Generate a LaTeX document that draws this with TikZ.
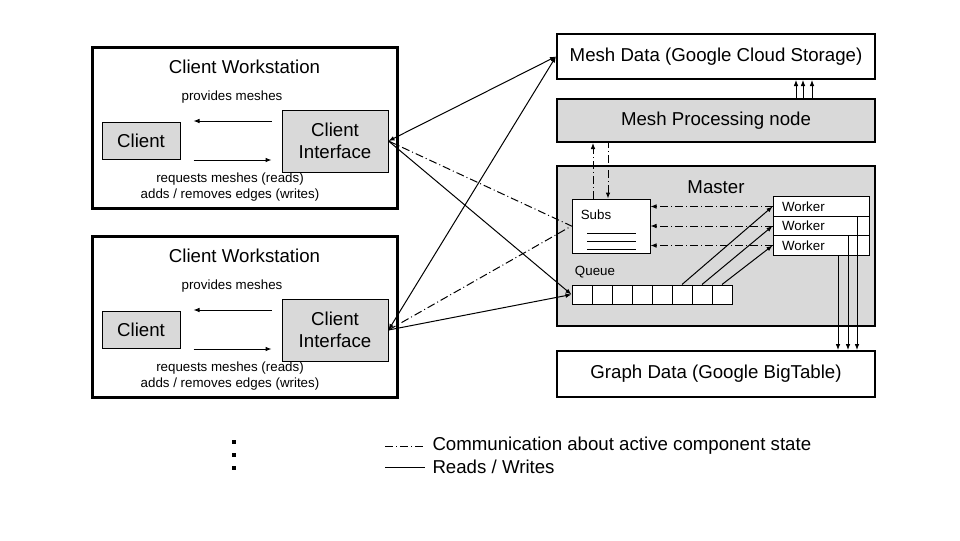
\documentclass[tikz,border=0pt]{standalone}
\usepackage{fontspec}
\setsansfont{Liberation Sans}
\usetikzlibrary{arrows.meta}
\usetikzlibrary{calc}
\definecolor{boxgray}{HTML}{D9D9D9}

\begin{document}
\begin{tikzpicture}[x=0.75pt, y=-0.75pt, font=\sffamily\fontsize{14}{16.5}\selectfont,
  >={Latex[length=4.5pt,width=3.5pt]}, line width=0.75pt,
  station/.style={draw, line width=2.25pt, minimum width=228.75pt, minimum height=120.75pt},
  part/.style={draw, fill=boxgray, align=center, inner sep=0pt},
  store/.style={draw, line width=1.5pt, minimum width=238.5pt, inner sep=0pt},
  small/.style={font=\sffamily\fontsize{10}{12}\selectfont},
  cell/.style={draw, fill=white, minimum width=15pt, minimum height=14.25pt, inner sep=0pt},
  worker/.style={draw, fill=white, small, text width=58.5pt, inner xsep=6.75pt, inner ysep=0pt, minimum height=14.625pt, align=left},
  dashdot/.style={dash pattern=on 6pt off 2.25pt on 0.75pt off 2.25pt}]
\useasboundingbox (0,0) rectangle (960,540);

% client workstations
\foreach \n/\dy in {1/0, 2/189} {
  \node[station] (ws\n) at (244.5,127.5+\dy) {};
  \node (title\n) at (244.5,67+\dy) {Client Workstation};
  \node[part, minimum width=58.5pt, minimum height=27.75pt] (cl\n) at (141,140.5+\dy) {Client};
  \node[part, minimum width=79.5pt, minimum height=46.5pt] (ci\n) at (335,141+\dy) {Client\\Interface};
  \node[small] (prov\n) at (232,97+\dy) {provides meshes};
  \node[small, align=center] (req\n) at (230,187+\dy) {requests meshes (reads)\\adds / removes edges (writes)};
  \draw[->] ($(ci\n.west)+(-10,-20)$) -- ($(cl\n.east)+(13,-19.5)$);
  \draw[->] ($(cl\n.east)+(13,19.5)$) -- ($(ci\n.west)+(-10,19)$);
}

% storage and master
\node[store, minimum height=33.75pt] (mesh) at (716,56.5) {Mesh Data (Google Cloud Storage)};
\node[store, fill=boxgray, minimum height=32.25pt] (mpn) at (716,120.5) {Mesh Processing node};
\node[store, fill=boxgray, minimum height=120pt] (master) at (716,246) {};
\node (masterlbl) at (716,187) {Master};
\node[store, minimum height=34.5pt] (graph) at (716,374) {Graph Data (Google BigTable)};

\node[draw, fill=white, minimum width=58.5pt, minimum height=40.5pt] (subs) at (611,226) {};
\node[small] (subslbl) at (596,215) {Subs};
\foreach \y in {233,241,249}
  \draw (587,\y) -- (636,\y);
\node[small] (queuelbl) at (595,272) {Queue};
\foreach \i in {1,...,8}
  \node[cell] (q\i) at (562+20*\i,294.5) {};
\foreach \i/\y in {1/206.5, 2/226, 3/245.5}
  \node[worker] (w\i) at (821,\y) {Worker};

\foreach \i/\dx in {1/36, 2/27, 3/17} {
  \coordinate (d\i) at ($(w\i.south)+(\dx,0)$);
  \draw[->] (d\i) -- (d\i |- graph.north);
}
\foreach \i/\q in {1/6, 2/7, 3/8} {
  \draw[->] (q\q.north) -- (w\i.west);
  \draw[dashdot, ->] (w\i.west) -- (w\i.west -| subs.east);
}
\foreach \dx in {80,87,96} {
  \coordinate (u\dx) at ($(mpn.north)+(\dx,0)$);
  \draw[->] (u\dx) -- (u\dx |- mesh.south);
}
\coordinate (s1) at ($(subs.north)+(-18,0)$);
\coordinate (s2) at ($(subs.north)+(-3,0)$);
\draw[dashdot, ->] (s1) -- (s1 |- mpn.south);
\draw[dashdot, <-] (s2) -- (s2 |- mpn.south);

% links from the client interfaces
\foreach \n in {1,2} {
  \draw[<->] (ci\n.east) -- (mesh.west);
  \draw[->] (ci\n.east) -- (q1.west);
  \draw[dashdot] (ci\n.east) -- (subs.west);
}

% legend
\foreach \y in {442,455,468}
  \fill (232,\y-2) rectangle ++(4,4);
\coordinate (leg1) at (385,446);
\coordinate (leg2) at (385,467);
\draw[dashdot] (leg1) -- ++(40,0) node[anchor=west, inner sep=0pt, xshift=5.25pt] (legtext1) {Communication about active component state};
\draw (leg2) -- ++(40,0) node[anchor=west, inner sep=0pt, xshift=5.25pt] (legtext2) {Reads / Writes};
\end{tikzpicture}
\end{document}
